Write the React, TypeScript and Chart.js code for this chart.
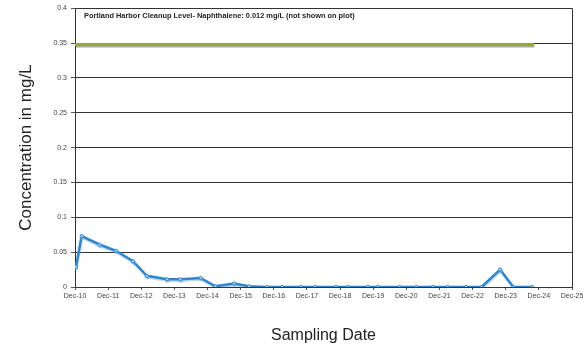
import React, { useEffect, useRef } from "react";
import { Chart, registerables } from "chart.js";

Chart.register(...registerables);

// Sampling dates as decimal years, with measured concentrations (mg/L)
const sampleDates = [
  2010.03, 2010.2, 2010.74, 2011.24, 2011.75, 2012.17, 2012.78, 2013.18, 2013.79,
  2014.24, 2014.8, 2015.25, 2015.8, 2016.25, 2016.82, 2017.25, 2017.88, 2018.23,
  2018.84, 2019.14, 2019.8, 2020.3, 2020.8, 2021.25, 2021.8, 2022.27, 2022.83,
  2023.23, 2023.79,
];
const concentrations = [
  0.029, 0.073, 0.061, 0.052, 0.037, 0.016, 0.011, 0.011, 0.013,
  0.001, 0.005, 0.001, 0, 0, 0, 0, 0, 0,
  0, 0, 0, 0, 0, 0, 0, 0, 0.025,
  0, 0,
];
const referenceDates = [2010.0, 2023.85];
const referenceLevel = [0.348, 0.348];

const xMin = 2010;
const xMax = 2025;
const yTicks = ["0", "0.05", "0.1", "0.15", "0.2", "0.25", "0.3", "0.35", "0.4"];
const noteText = "Portland Harbor Cleanup Level- Naphthalene: 0.012 mg/L (not shown on plot)";

const W = 587;
const H = 349;

export default function App() {
  const ref = useRef<HTMLCanvasElement | null>(null);

  useEffect(() => {
    document.body.style.margin = "0";
    const canvas = ref.current;
    if (!canvas) return;

    const shadowPlugin = {
      id: "lineShadow",
      beforeDatasetDraw(chart: any, args: any) {
        const ctx = chart.ctx;
        ctx.save();
        ctx.shadowColor = args.index === 0 ? "rgba(90,90,90,0.55)" : "rgba(120,170,210,0.5)";
        ctx.shadowOffsetY = 1.5;
        ctx.shadowOffsetX = 0.5;
        ctx.shadowBlur = 1;
      },
      afterDatasetDraw(chart: any) {
        chart.ctx.restore();
      },
    };

    const notePlugin = {
      id: "note",
      afterDraw(chart: any) {
        const ctx = chart.ctx;
        const area = chart.chartArea;
        ctx.save();
        ctx.font = "bold 7.4px 'Liberation Sans', Arial, sans-serif";
        ctx.fillStyle = "#222";
        ctx.textBaseline = "middle";
        ctx.fillText(noteText, area.left + 9, area.top + 8);
        ctx.restore();
      },
    };

    const chart = new Chart(canvas, {
      type: "line",
      data: {
        datasets: [
          {
            label: "Cleanup level",
            data: referenceDates.map((x, i) => ({ x, y: referenceLevel[i] })),
            borderColor: "#93aa38",
            borderWidth: 3,
            pointRadius: 0,
            tension: 0,
          },
          {
            label: "Naphthalene",
            data: sampleDates.map((x, i) => ({ x, y: concentrations[i] })),
            borderColor: "#2b87d3",
            borderWidth: 2.5,
            pointRadius: 1.6,
            pointBackgroundColor: "#c9e3f6",
            pointBorderColor: "#2b87d3",
            pointBorderWidth: 1,
            tension: 0,
          },
        ],
      },
      options: {
        animation: false,
        responsive: true,
        maintainAspectRatio: false,
        layout: { padding: { top: 7, right: 15, left: 8, bottom: 0 } },
        plugins: {
          legend: { display: false },
          tooltip: { enabled: false },
        },
        scales: {
          x: {
            type: "linear",
            min: xMin,
            max: xMax,
            afterFit(scale: any) {
              scale.height = 62;
            },
            ticks: {
              stepSize: 1,
              autoSkip: false,
              maxRotation: 0,
              padding: 2,
              color: "#444",
              font: { family: "'Liberation Sans', Arial, sans-serif", size: 7 },
              callback: (v: any) => "Dec-" + String(Math.round(v) % 100).padStart(2, "0"),
            },
            grid: {
              drawOnChartArea: true,
              color: (c: any) => (c.tick && c.tick.value === xMax ? "#333" : "rgba(0,0,0,0)"),
              tickColor: "#555",
              tickLength: 3,
              lineWidth: 1,
            },
            border: { display: true, color: "#333", width: 1 },
            title: {
              display: true,
              text: "Sampling Date",
              color: "#222",
              font: { family: "'Liberation Sans', Arial, sans-serif", size: 16 },
              padding: { top: 0, bottom: 4 },
            },
          },
          y: {
            min: 0,
            max: 0.4,
            afterFit(scale: any) {
              scale.width = 67;
            },
            afterBuildTicks(scale: any) {
              scale.ticks = yTicks.map((t) => ({ value: parseFloat(t) }));
            },
            ticks: {
              padding: 4,
              color: "#444",
              font: { family: "'Liberation Sans', Arial, sans-serif", size: 7 },
              callback: (v: any) => {
                const s = yTicks.find((t) => Math.abs(parseFloat(t) - v) < 1e-9);
                return s ?? "";
              },
            },
            grid: {
              color: "#333",
              lineWidth: 1,
              tickLength: 4,
              tickColor: "#555",
            },
            border: { display: true, color: "#333", width: 1 },
            title: {
              display: true,
              text: "Concentration in mg/L",
              color: "#222",
              font: { family: "'Liberation Sans', Arial, sans-serif", size: 17 },
              padding: { top: 8, bottom: 0 },
            },
          },
        },
      },
      plugins: [shadowPlugin, notePlugin],
    });

    return () => chart.destroy();
  }, []);

  return (
    <div style={{ width: W, height: H, position: "relative", background: "#fff" }}>
      <canvas ref={ref} />
    </div>
  );
}
